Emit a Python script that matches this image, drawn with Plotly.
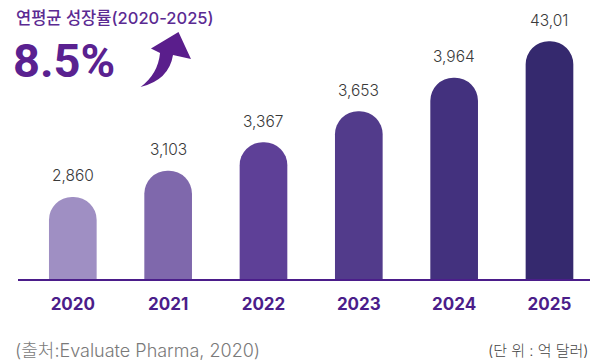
import plotly.graph_objects as go

# ---- data ----
years = ["2020", "2021", "2022", "2023", "2024", "2025"]
values = [2860, 3103, 3367, 3653, 3964, 4301]
value_labels = ["2,860", "3,103", "3,367", "3,653", "3,964", "43,01"]
bar_colors = ["#9F8FC3", "#7F68AC", "#5E4097", "#523B8B", "#43317E", "#35296E"]
title_text = "연평균 성장률(2020-2025)"
cagr_text = "8.5%"
source_text = "(출처:Evaluate Pharma, 2020)"
unit_text = "(단 위 : 억 달러)"

W, H = 608, 361
ML, MR, MT, MB = 18, 18, 30, 82
PW, PH = W - ML - MR, H - MT - MB
FONT = "Inter, Noto Sans CJK KR"

def px2paper(x, y):
    return (x - ML) / PW, (H - MB - y) / PH

fig = go.Figure()
fig.add_trace(go.Bar(
    x=years, y=values,
    marker=dict(color=bar_colors, cornerradius="50%", line=dict(width=0)),
    width=0.5, hoverinfo="skip",
))

# value labels (x given as category index)
for i, (v, t) in enumerate(zip(values, value_labels)):
    fig.add_annotation(x=i, y=v, xref="x", yref="y", text=t, showarrow=False,
                       yanchor="middle", yshift=21,
                       font=dict(family=FONT, size=15.5, color="#3a3a3a", weight=300))

# header texts
fx, fy = px2paper(14, 18)
fig.add_annotation(xref="paper", yref="paper", x=fx, y=fy, text=title_text, showarrow=False,
                   xanchor="left", yanchor="middle",
                   font=dict(family=FONT, size=16.5, color="#5B2A92", weight=500))
fx, fy = px2paper(11, 60)
fig.add_annotation(xref="paper", yref="paper", x=fx, y=fy, text="<b>%s</b>" % cagr_text, showarrow=False,
                   xanchor="left", yanchor="middle",
                   font=dict(family="Roboto", size=47, color="#5A2190"))
# footer texts
fx, fy = px2paper(13, 350)
fig.add_annotation(xref="paper", yref="paper", x=fx, y=fy, text=source_text, showarrow=False,
                   xanchor="left", yanchor="middle",
                   font=dict(family=FONT, size=18, color="#7a7a7a", weight=300))
fx, fy = px2paper(591, 350)
fig.add_annotation(xref="paper", yref="paper", x=fx, y=fy, text=unit_text, showarrow=False,
                   xanchor="right", yanchor="middle",
                   font=dict(family=FONT, size=15, color="#444444", weight=300))

# curved arrow (decoration)
def pt(x, y):
    a, b = px2paper(x, y)
    return "%.4f,%.4f" % (a, b)

path = ("M " + pt(140.5, 87) +
        " Q " + pt(158, 74) + " " + pt(160, 53) +
        " L " + pt(151, 48.5) +
        " L " + pt(178.5, 32) +
        " L " + pt(191, 59) +
        " L " + pt(173, 55) +
        " Q " + pt(169, 80) + " " + pt(140.5, 87) + " Z")
fig.add_shape(type="path", xref="paper", yref="paper", path=path,
              fillcolor="#5A1E8C", line=dict(width=0), layer="above")

fig.update_layout(
    width=W, height=H,
    margin=dict(l=ML, r=MR, t=MT, b=MB),
    paper_bgcolor="white", plot_bgcolor="white",
    showlegend=False,
    xaxis=dict(type="category", range=[-0.575, 5.425], showline=True, linecolor="#4B1D8A",
               linewidth=2, ticks="outside", ticklen=9, tickcolor="rgba(0,0,0,0)",
               tickfont=dict(family="Inter", size=17, color="#4B1D8A", weight="bold"),
               showgrid=False, zeroline=False, fixedrange=True),
    yaxis=dict(range=[2100, 2100 + PH / 0.108], visible=False, showgrid=False,
               zeroline=False, fixedrange=True),
)

fig.write_html("out.html")
